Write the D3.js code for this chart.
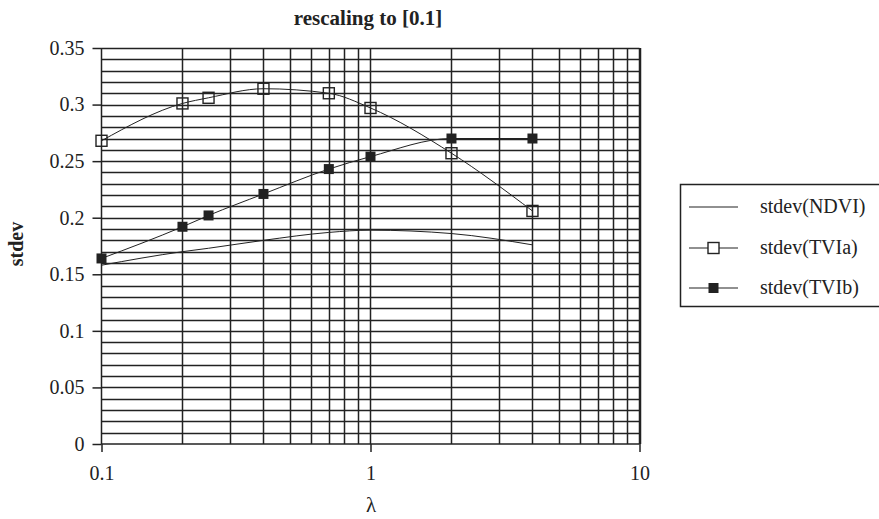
<!DOCTYPE html>
<html>
<head>
<meta charset="utf-8">
<script src="https://cdn.jsdelivr.net/npm/d3@7"></script>
<style>
  body { margin: 0; background: #fff; }
  svg text { font-family: "Liberation Serif", "Times New Roman", serif; fill: #222; }
</style>
</head>
<body>
<div id="chart"></div>
<script>
// ---------- DATA ----------
var lambdas = [0.1, 0.2, 0.25, 0.4, 0.7, 1, 2, 4];
var ndvi    = [0.158, 0.170, 0.173, 0.180, 0.187, 0.189, 0.186, 0.176];
var tviA    = [0.268, 0.301, 0.306, 0.314, 0.310, 0.297, 0.257, 0.206];
var tviB    = [0.164, 0.192, 0.202, 0.221, 0.243, 0.254, 0.270, 0.270];
var yTicks  = [0, 0.05, 0.1, 0.15, 0.2, 0.25, 0.3, 0.35];
var xTicks  = [0.1, 1, 10];
var seriesNames = ['stdev(NDVI)', 'stdev(TVIa)', 'stdev(TVIb)'];

// ---------- PAGE ----------
var W = 879, H = 519;
var plotL = 101.5, plotR = 639.5, plotT = 48, plotB = 444;
var ink = '#222';

var svg = d3.select('#chart').append('svg')
    .attr('width', W)
    .attr('height', H);

var x = d3.scaleLog().domain([0.1, 10]).range([plotL, plotR]);
var y = d3.scaleLinear().domain([0, 0.35]).range([plotB, plotT]);

// grid, horizontal every 0.01
var hGrid = d3.range(1, 36).map(function(i){ return i / 100; });
svg.append('g').selectAll('line')
    .data(hGrid)
    .enter()
    .append('line')
        .attr('x1', plotL).attr('x2', plotR)
        .attr('y1', function(d){ return Math.round(y(d)) + 0.5; })
        .attr('y2', function(d){ return Math.round(y(d)) + 0.5; })
        .style('stroke', ink)
        .style('stroke-width', 1.5);

// vertical log grid
var vGrid = [];
[0.1, 1].forEach(function(dec){
    for (var k = 2; k <= 10; k++) vGrid.push(dec * k);
});
svg.append('g').selectAll('line')
    .data(vGrid)
    .enter()
    .append('line')
        .attr('x1', function(d){ return Math.round(x(d)) + 0.5; })
        .attr('x2', function(d){ return Math.round(x(d)) + 0.5; })
        .attr('y1', plotT).attr('y2', plotB)
        .style('stroke', ink)
        .style('stroke-width', 1.5);

// axes
var yAxis = d3.axisLeft(y).tickValues(yTicks).tickSize(9).tickPadding(8)
    .tickFormat(function(d){ return String(+d.toFixed(2)); });
var gy = svg.append('g').attr('transform', 'translate(' + plotL + ',0)').call(yAxis);

var xAxis = d3.axisBottom(x).tickValues(xTicks).tickSize(8).tickPadding(14)
    .tickFormat(function(d){ return String(d); });
var gx = svg.append('g').attr('transform', 'translate(0,' + plotB + ')').call(xAxis);

[gy, gx].forEach(function(g){
    g.attr('font-size', null).attr('font-family', null);
    g.selectAll('path').style('stroke', ink).style('stroke-width', 1.5);
    g.selectAll('line').style('stroke', ink).style('stroke-width', 1.5);
    g.selectAll('text').style('font-size', '20px').style('fill', ink);
});
gy.select('path').attr('d', 'M0,' + plotB + 'V' + plotT);
gx.select('path').attr('d', 'M' + plotL + ',0H' + plotR);

// right edge of plot
svg.append('line')
    .attr('x1', plotR).attr('x2', plotR).attr('y1', plotT).attr('y2', plotB)
    .style('stroke', ink).style('stroke-width', 1.5);

// series
var line = d3.line()
    .x(function(d){ return x(d[0]); })
    .y(function(d){ return y(d[1]); })
    .curve(d3.curveMonotoneX);

function pairs(vals){
    return lambdas.map(function(l, i){ return [l, vals[i]]; });
}

[ndvi, tviA, tviB].forEach(function(vals){
    svg.append('path')
        .datum(pairs(vals))
        .attr('d', line)
        .style('fill', 'none')
        .style('stroke', ink)
        .style('stroke-width', 1);
});

svg.append('g').selectAll('rect')
    .data(pairs(tviA))
    .enter()
    .append('rect')
        .attr('x', function(d){ return x(d[0]) - 5.5; })
        .attr('y', function(d){ return y(d[1]) - 5.5; })
        .attr('width', 11).attr('height', 11)
        .style('fill', 'none')
        .style('stroke', ink)
        .style('stroke-width', 1.4);

svg.append('g').selectAll('rect')
    .data(pairs(tviB))
    .enter()
    .append('rect')
        .attr('x', function(d){ return x(d[0]) - 5; })
        .attr('y', function(d){ return y(d[1]) - 5; })
        .attr('width', 10).attr('height', 10)
        .style('fill', ink);

// titles
svg.append('text')
    .attr('x', 368).attr('y', 25)
    .attr('text-anchor', 'middle')
    .style('font-size', '21px').style('font-weight', 'bold')
    .text('rescaling to [0.1]');

svg.append('text')
    .attr('transform', 'translate(23,244) rotate(-90)')
    .attr('text-anchor', 'middle')
    .style('font-size', '20px').style('font-weight', 'bold')
    .text('stdev');

svg.append('text')
    .attr('x', 371).attr('y', 512)
    .attr('text-anchor', 'middle')
    .style('font-size', '21px')
    .text('λ');

// legend
var lg = svg.append('g');
lg.append('rect')
    .attr('x', 680.5).attr('y', 184.5)
    .attr('width', 210).attr('height', 122)
    .style('fill', '#fff')
    .style('stroke', ink).style('stroke-width', 1.5);

var legY = [207, 248, 288];
seriesNames.forEach(function(name, i){
    lg.append('line')
        .attr('x1', 689).attr('x2', 738)
        .attr('y1', legY[i]).attr('y2', legY[i])
        .style('stroke', ink).style('stroke-width', 1.2);
    if (i == 1) {
        lg.append('rect')
            .attr('x', 708).attr('y', legY[i] - 5.5)
            .attr('width', 11).attr('height', 11)
            .style('fill', '#fff').style('stroke', ink).style('stroke-width', 1.4);
    } else if (i == 2) {
        lg.append('rect')
            .attr('x', 708.5).attr('y', legY[i] - 5)
            .attr('width', 10).attr('height', 10)
            .style('fill', ink);
    }
    lg.append('text')
        .attr('x', 760).attr('y', legY[i] + 6)
        .style('font-size', '20px')
        .text(name);
});
</script>
</body>
</html>
